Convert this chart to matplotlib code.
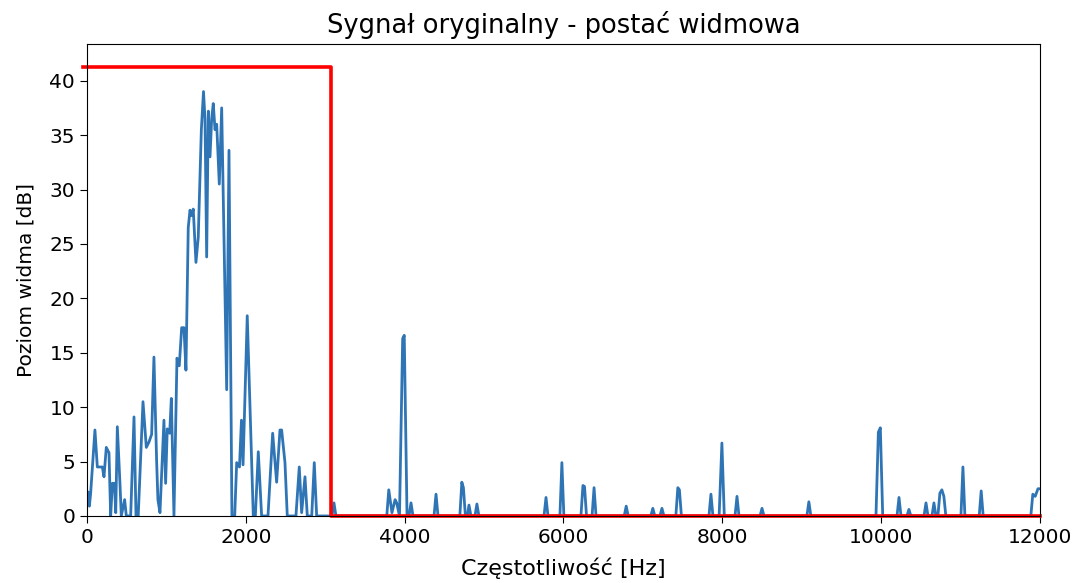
import matplotlib
matplotlib.use("Agg")
import matplotlib.pyplot as plt

plt.rcParams["font.family"] = ["DejaVu Sans"]

# Magnitude spectrum of the original signal (frequency in Hz, level in dB, clipped at 0)
freq_hz = [
    0, 15, 30, 45, 100, 130, 193, 214, 243, 277, 298, 320, 345, 362, 382, 415,
    432, 474, 495, 550, 592, 617, 645, 705, 747, 781, 814, 843, 877, 893, 919,
    969, 990, 1011, 1041, 1062, 1095, 1133, 1162, 1192, 1221, 1246, 1275, 1297,
    1318, 1338, 1372, 1401, 1440, 1467, 1486, 1507, 1528, 1549, 1570, 1590,
    1612, 1633, 1666, 1696, 1759, 1788, 1825, 1860, 1885, 1920, 1945, 1965,
    2018, 2094, 2120, 2157, 2199, 2279, 2338, 2388, 2430, 2451, 2493, 2522,
    2631, 2673, 2703, 2745, 2774, 2830, 2862, 2892,
    3085, 3110, 3135,
    3775, 3800, 3840, 3880, 3900, 3935, 3975, 3995, 4030, 4055, 4080, 4105,
    4370, 4395, 4420,
    4695, 4720, 4740, 4765, 4790, 4810, 4835, 4885, 4910, 4935,
    5755, 5780, 5805,
    5955, 5980, 6005,
    6220, 6245, 6265, 6290, 6360, 6385, 6410,
    6765, 6790, 6815,
    7100, 7125, 7150, 7215, 7240, 7265,
    7415, 7440, 7460, 7485,
    7832, 7857, 7882, 7960, 7995, 8025,
    8160, 8185, 8210, 8475, 8500, 8525,
    9065, 9090, 9115,
    9935, 9965, 9990, 10020,
    10200, 10225, 10250, 10325, 10350, 10375,
    10540, 10565, 10590, 10640, 10665, 10690, 10715, 10740, 10765, 10790, 10815,
    11005, 11030, 11055,
    11235, 11260, 11285,
    11885, 11910, 11940, 11975, 12000,
]
level_db = [
    1.5, 2.2, 0.9, 2.0, 7.9, 4.5, 4.5, 3.6, 6.3, 5.8, 0.0, 3.0, 3.0, 0.3, 8.2, 3.0,
    0.0, 1.5, 0.0, 0.0, 9.1, 0.0, 0.0, 10.5, 6.3, 6.8, 7.5, 14.6, 5.0, 1.5, 0.3,
    8.8, 3.0, 8.0, 7.6, 10.8, 0.0, 14.5, 13.8, 17.3, 17.3, 13.4, 26.5, 28.1,
    27.6, 28.2, 23.3, 25.6, 35.5, 39.0, 36.5, 23.8, 37.2, 33.0, 36.5, 37.9,
    35.5, 36.0, 30.5, 37.5, 11.6, 33.6, 0.0, 0.0, 4.9, 4.5, 8.8, 4.7,
    18.4, 0.0, 0.0, 5.9, 0.0, 0.0, 7.6, 3.1, 7.9, 7.9, 4.9, 0.0,
    0.0, 4.5, 0.3, 3.6, 0.0, 0.0, 4.9, 0.0,
    0.0, 1.2, 0.0,
    0.0, 2.4, 0.3, 1.5, 1.2, 0.0, 16.3, 16.6, 0.0, 0.0, 1.2, 0.0,
    0.0, 2.0, 0.0,
    0.0, 3.1, 2.6, 0.0, 0.0, 1.0, 0.0, 0.0, 1.1, 0.0,
    0.0, 1.7, 0.0,
    0.0, 4.9, 0.0,
    0.0, 2.8, 2.7, 0.0, 0.0, 2.6, 0.0,
    0.0, 0.9, 0.0,
    0.0, 0.7, 0.0, 0.0, 0.7, 0.0,
    0.0, 2.6, 2.4, 0.0,
    0.0, 2.0, 0.0, 0.0, 6.7, 0.0,
    0.0, 1.8, 0.0, 0.0, 0.7, 0.0,
    0.0, 1.3, 0.0,
    0.0, 7.7, 8.1, 0.0,
    0.0, 1.7, 0.0, 0.0, 0.6, 0.0,
    0.0, 1.2, 0.0, 0.0, 1.2, 0.0, 0.0, 2.1, 2.4, 1.8, 0.0,
    0.0, 4.5, 0.0,
    0.0, 2.3, 0.0,
    0.0, 2.0, 1.8, 2.5, 2.5,
]

# Ideal low-pass filter characteristic drawn over the spectrum
filter_freq = [-50, 3075, 3075, 12000]
filter_level = [41.3, 41.3, 0.0, 0.0]

fig = plt.figure(figsize=(10.74, 5.83), dpi=100)
ax = fig.add_axes([0.081, 0.115, 0.8873, 0.8095])

ax.plot(freq_hz, level_db, color="#2f75b5", linewidth=2.0)
ax.plot(filter_freq, filter_level, color="#ff0000", linewidth=2.6, clip_on=False)

ax.set_xlim(0, 12000)
ax.set_ylim(0, 43.37)
ax.set_xticks([0, 2000, 4000, 6000, 8000, 10000, 12000])
ax.set_yticks([0, 5, 10, 15, 20, 25, 30, 35, 40])
ax.tick_params(labelsize=14.5, length=5)

ax.set_title("Sygnał oryginalny - postać widmowa", fontsize=18.5, pad=8)
ax.set_xlabel("Częstotliwość [Hz]", fontsize=16, labelpad=8)
ax.set_ylabel("Poziom widma [dB]", fontsize=14.5, labelpad=10)

fig.savefig("out.png", dpi=100)
